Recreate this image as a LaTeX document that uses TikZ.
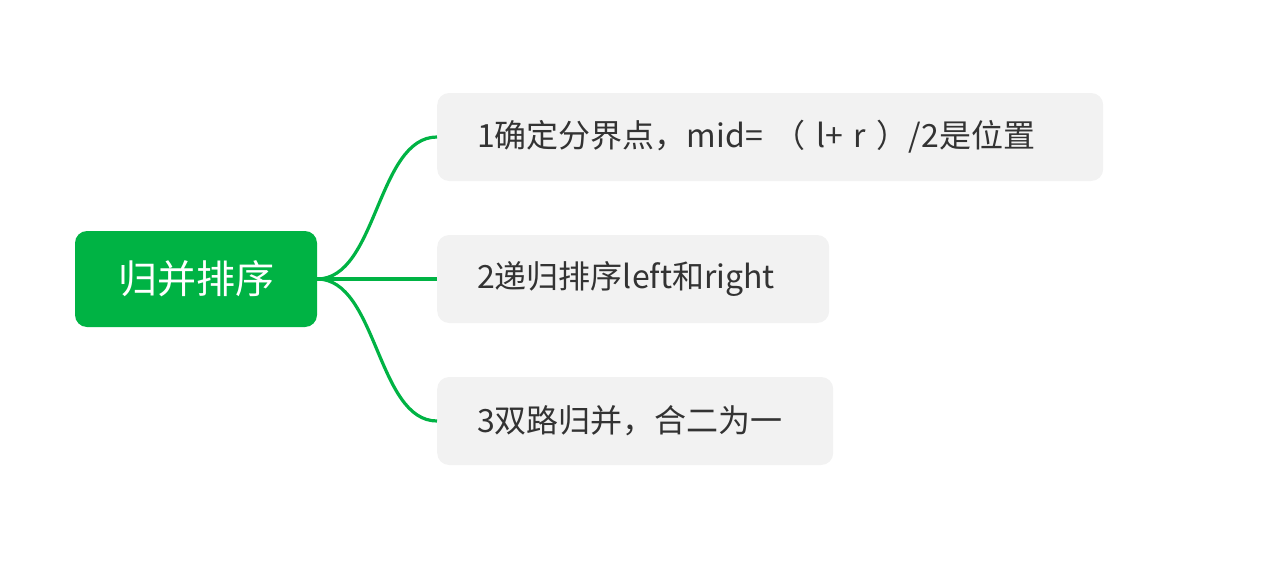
\documentclass[tikz,border=0pt]{standalone}
\usepackage{fontspec}
\usetikzlibrary{calc}
\setmainfont{Noto Sans CJK SC}
\definecolor{mmgreen}{HTML}{00B344}
\definecolor{boxgray}{HTML}{F2F2F2}
\definecolor{txtgray}{HTML}{333333}
\begin{document}
\begin{tikzpicture}[x=1pt,y=-1pt,
  rootbox/.style={fill=mmgreen, rounded corners=12pt, text=white, font=\fontsize{39}{44}\selectfont, inner sep=0pt, anchor=center},
  leafbox/.style={fill=boxgray, rounded corners=12pt, text=txtgray, font=\fontsize{32}{36}\selectfont, inner sep=0pt, anchor=west},
  link/.style={draw=mmgreen, line width=3.2pt}]
\useasboundingbox (0,0) rectangle (1266,578);
\node[rootbox, minimum width=242pt, minimum height=96pt] (root) at (196,279) {归并排序};
\node[leafbox, minimum width=666pt, minimum height=88pt, text width=586pt, align=left, inner xsep=40pt] (b1) at (437,137) {1确定分界点，mid= （ l+ r ）/2是位置};
\node[leafbox, minimum width=392pt, minimum height=88pt, text width=312pt, align=left, inner xsep=40pt] (b2) at (437,279) {2递归排序left和right};
\node[leafbox, minimum width=396pt, minimum height=88pt, text width=316pt, align=left, inner xsep=40pt] (b3) at (437,421) {3双路归并，合二为一};
\draw[link] (root.east) .. controls +(60,0) and ($(b1.west)+(-60,0)$) .. (b1.west);
\draw[link] (root.east) -- (b2.west);
\draw[link] (root.east) .. controls +(60,0) and ($(b3.west)+(-60,0)$) .. (b3.west);
\end{tikzpicture}
\end{document}
